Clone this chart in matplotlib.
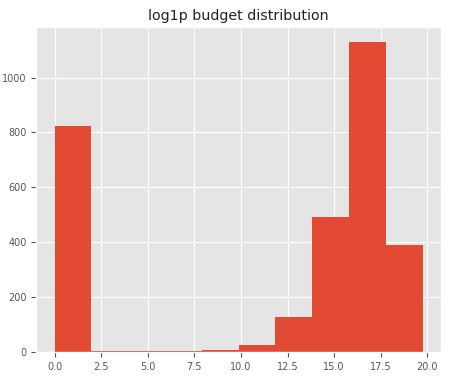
import numpy as np
import matplotlib
matplotlib.use("Agg")
import matplotlib.pyplot as plt

# histogram: 10 bins over log1p(budget)
bin_min = 0.0
bin_max = 19.75
counts = [822, 3, 3, 3, 7, 25, 127, 493, 1128, 391]

edges = np.linspace(bin_min, bin_max, len(counts) + 1)
centers = (edges[:-1] + edges[1:]) / 2

plt.style.use("ggplot")
fig = plt.figure(figsize=(4.52, 3.84), dpi=100)
ax = fig.add_axes([0.08, 0.083, 0.896, 0.847])
ax.hist(centers, bins=edges, weights=counts)
ax.set_title("log1p budget distribution", fontsize=10.3, color="#222222", pad=5)
ax.tick_params(labelsize=7)

fig.savefig("out.png", dpi=100)
